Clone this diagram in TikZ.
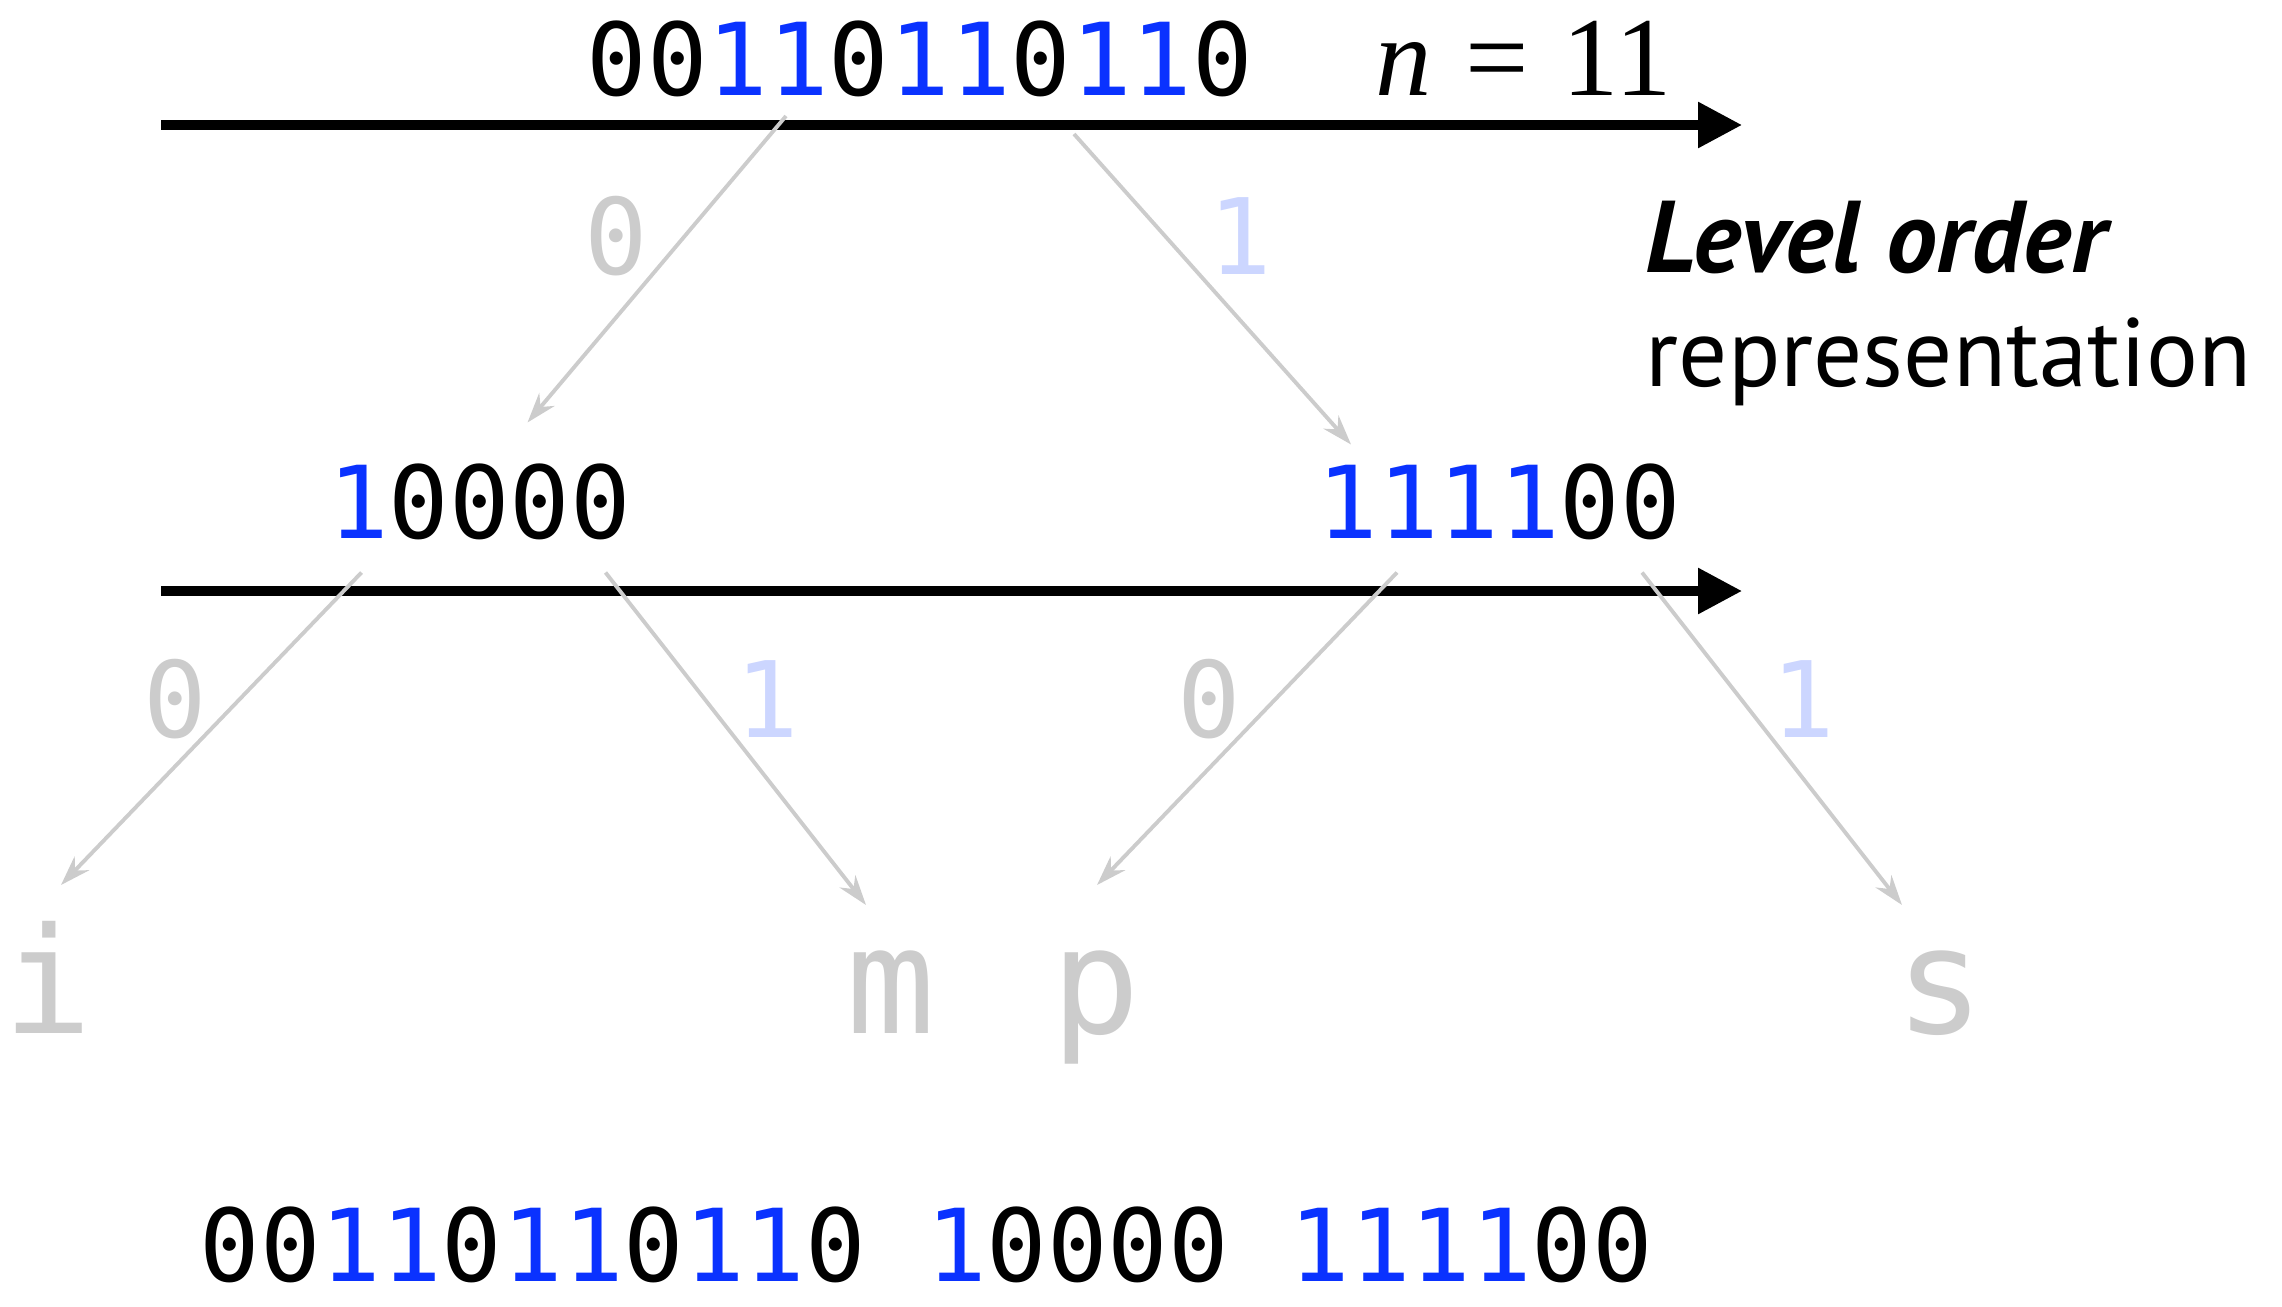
\documentclass[tikz,border=0pt]{standalone}
\usepackage{fontspec}
\usepackage{tikz}
\usetikzlibrary{arrows.meta,calc}
\newfontfamily\bitfont{DejaVu Sans Mono}
\newfontfamily\capfont{PT Sans}
\newfontfamily\eqfont{Liberation Serif}
\definecolor{bitblue}{RGB}{10,50,255}
\definecolor{leafgray}{RGB}{204,204,204}
\definecolor{paleblue}{RGB}{204,214,255}
\newcommand{\bone}[1]{\textcolor{bitblue}{#1}}

\begin{document}
\begin{tikzpicture}[
  x=0.01cm,y=-0.01cm,
  bits/.style={inner sep=0,anchor=base west,font=\bitfont\fontsize{28.6}{34}\selectfont},
  leaf/.style={inner sep=0,anchor=base,text=leafgray,font=\bitfont\fontsize{42}{50}\selectfont},
  elab/.style={inner sep=0,font=\bitfont\fontsize{30}{36}\selectfont},
  captext/.style={inner sep=0,anchor=base west,font=\capfont\fontsize{27.6}{33}\selectfont},
  edge/.style={draw=leafgray,line width=1.1pt,-{Stealth[length=0.3cm,width=0.2cm]}},
  axis/.style={line width=2.6pt,-{Triangle[length=0.44cm,width=0.44cm]}}
]
\useasboundingbox (0,0) rectangle (2282,1306);
% level 0
\node[bits] (root) at (586,95) {00\bone{11}0\bone{11}0\bone{11}0};
\node[inner sep=0,anchor=base west,font=\eqfont\fontsize{32}{38}\selectfont] (size) at (1375,95)
  {\textit{n}\hspace{0.3em}=\hspace{0.3em}11};
\draw[axis] (161,125) -- (1742,125);
\node[captext] (capA) at (1645,272) {\fontsize{29}{34}\selectfont\textbf{\textit{Level order}}};
\node[captext] (capB) at (1645,386) {representation};
% level 1
\node[bits] (lvlA) at (327.5,538.5) {\bone{1}0000};
\node[bits] (lvlB) at (1317,538.5) {\bone{1111}00};
\draw[axis] (161,591) -- (1742,591);
% leaves
\node[leaf] (li) at (48,1033) {i};
\node[leaf] (lm) at (891,1033) {m};
\node[leaf] (lp) at (1096,1033) {p};
\node[leaf] (ls) at (1940,1033) {s};
% edges
\draw[edge] ($(root.base west)+(200,21)$) -- ($(lvlA.base west)+(200,-116)$);
\draw[edge] ($(root.base west)+(488,39)$) -- ($(lvlB.base west)+(34,-94)$);
\draw[edge] ($(lvlA.base west)+(34,34)$) -- ($(li.base)+(13,-148)$);
\draw[edge] ($(lvlA.base west)+(278,34)$) -- ($(lm.base)+(-25,-128)$);
\draw[edge] ($(lvlB.base west)+(80,34)$) -- ($(lp.base)+(1,-148)$);
\draw[edge] ($(lvlB.base west)+(325,34)$) -- ($(ls.base)+(-38,-128)$);
\node[elab,text=leafgray] (e0a) at (616,236) {0};
\node[elab,text=paleblue] (e1a) at (1240,236) {1};
\node[elab,text=leafgray] (e0b) at (175,699) {0};
\node[elab,text=paleblue] (e1b) at (767,699) {1};
\node[elab,text=leafgray] (e0c) at (1209,699) {0};
\node[elab,text=paleblue] (e1c) at (1803,699) {1};
% output
\node[bits] (code) at (199,1281) {00\bone{11}0\bone{11}0\bone{11}0 \bone{1}0000 \bone{1111}00};
\end{tikzpicture}
\end{document}
